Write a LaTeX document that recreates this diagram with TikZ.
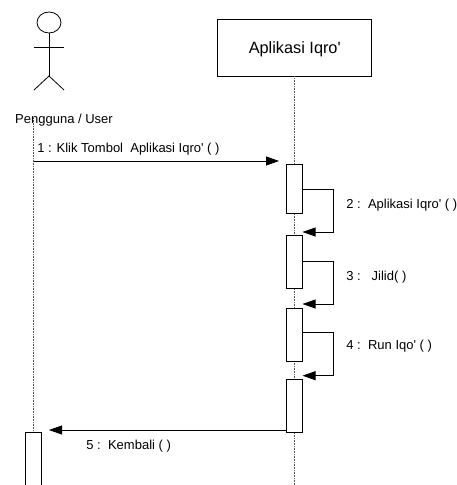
\documentclass[tikz,border=0pt]{standalone}
\usepackage{fontspec}
\setmainfont{Liberation Sans}
\usetikzlibrary{positioning,arrows.meta,shapes.geometric}

\begin{document}
\begin{tikzpicture}[
  x=1pt, y=-1pt,
  line width=0.8pt,
  objbox/.style={draw, minimum width=154pt, minimum height=57pt, inner sep=0pt, text height=16pt, text depth=3.5pt, font=\fontsize{16.3}{18}\selectfont},
  actv/.style={draw, fill=white, minimum width=15.5pt, minimum height=#1, inner sep=0pt},
  head/.style={draw, ellipse, minimum width=24pt, minimum height=21pt, inner sep=0pt},
  arr/.style={-{Triangle[length=13pt, width=9pt]}},
  lifeline/.style={densely dotted, line width=0.6pt, black!65},
  lbl/.style={font=\fontsize{13}{15}\selectfont, anchor=west, inner sep=0pt}
]
\useasboundingbox (0,0) rectangle (457,485);

% actor
\node[head] (kepala) at (49,22.5) {};
\coordinate (pinggul) at (49,76);
\coordinate (tanganL) at (34,47);
\coordinate (tanganR) at (64,47);
\coordinate (kakiL) at (34,90);
\coordinate (kakiR) at (64,90);
\draw (kepala.south) -- (pinggul);
\draw (tanganL) -- (tanganR);
\draw (kakiL) -- (pinggul) -- (kakiR);

% lifelines
\coordinate (userTop) at (33.5,118);
\coordinate (userEnd) at (33.5,432);
\coordinate (appEnd) at (294.5,485);
\draw[lifeline] (userTop) -- (userEnd);

\node[lbl, anchor=center] (user) at (64,120) {Pengguna / User};
\node[objbox] (app) at (294.75,47.5) {Aplikasi Iqro\textquotesingle};
\draw[lifeline] (app.south -| appEnd) -- (appEnd);

% activations
\node[actv=49pt] (a1) at (294.5,189) {};
\node[actv=52.5pt] (a2) at (294.5,261.75) {};
\node[actv=53pt] (a3) at (294.5,334.5) {};
\node[actv=52.5pt] (a4) at (294.5,405.75) {};
\node[actv=53pt] (a5) at (33.5,458.5) {};

% messages
\coordinate (m1s) at (33.5,161);
\coordinate (m1e) at (279,161);
\draw[arr] (m1s) -- (m1e);
\node[lbl] (m1) at (37,149) {1 : Klik Tombol\ \ Aplikasi Iqro\textquotesingle\ ( )};

\coordinate (s1) at (333.5,189);
\coordinate (e1) at (302.5,232);
\draw[arr] (a1.east) -- (s1) |- (e1);
\node[lbl] (m2) at (346,205) {2 :\ \ Aplikasi Iqro\textquotesingle\ ( )};

\coordinate (s2) at (333.5,261.75);
\coordinate (e2) at (302.5,304);
\draw[arr] (a2.east) -- (s2) |- (e2);
\node[lbl] (m3) at (346,277) {3 :\ \ \ Jilid( )};

\coordinate (s3) at (333.5,332.7);
\coordinate (e3) at (302.5,375.7);
\draw[arr] (a3.east |- s3) -- (s3) |- (e3);
\node[lbl] (m4) at (346,346) {4 :\ \ Run Iqo\textquotesingle\ ( )};

\coordinate (m5e) at (49,430);
\draw[arr] (a4.west |- m5e) -- (m5e);
\node[lbl] (m5) at (86,446.5) {5 :\ \ Kembali ( )};
\end{tikzpicture}
\end{document}
